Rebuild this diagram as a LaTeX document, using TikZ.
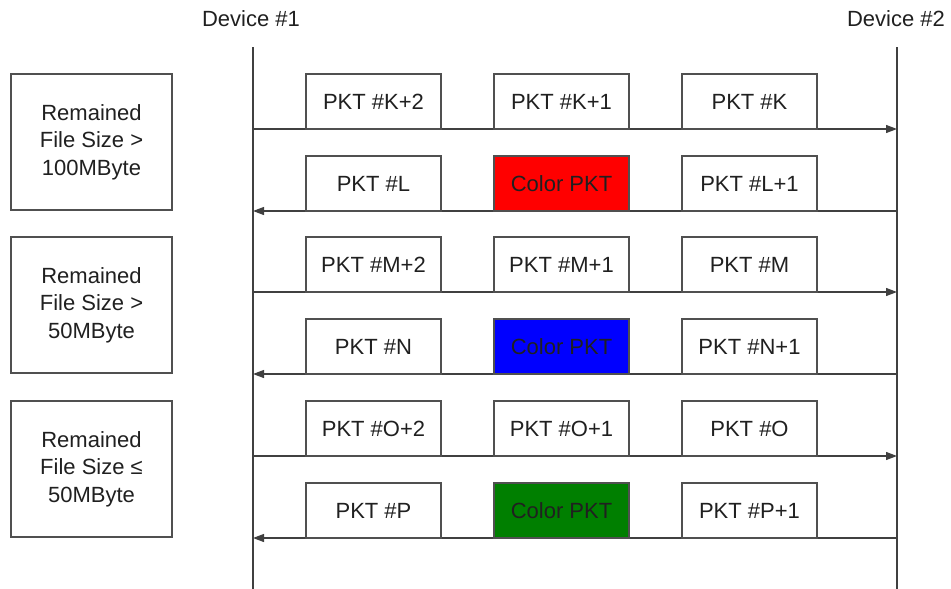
\documentclass[tikz,border=0pt]{standalone}
\usepackage{fontspec}
\setmainfont{Liberation Sans}
\usetikzlibrary{arrows.meta}
\definecolor{linec}{HTML}{404040}
\definecolor{boxc}{HTML}{505050}
\definecolor{txtc}{HTML}{202020}
\definecolor{pgreen}{HTML}{007F00}
\tikzset{
  lifeline/.style={draw=linec, line width=1.3pt},
  msg/.style={draw=linec, line width=1.2pt, -{Triangle[length=11pt,width=8pt]}},
  pkt/.style={draw=boxc, line width=1.2pt, fill=white, minimum width=135pt, minimum height=55pt, inner sep=0pt, font=\fontsize{22}{26}\selectfont, text=txtc},
  cond/.style={draw=boxc, line width=1.2pt, fill=white, minimum width=161pt, minimum height=136pt, inner sep=0pt, align=center, font=\fontsize{22}{27.5}\selectfont, text=txtc},
  devlbl/.style={font=\fontsize{22}{26}\selectfont, text=txtc, inner sep=0pt}
}
\begin{document}
\begin{tikzpicture}[x=1pt,y=-1pt]
\useasboundingbox (0,0) rectangle (951,589);
% device labels and lifelines
\node[devlbl] (dev1) at (251,19) {Device \#1};
\node[devlbl] (dev2) at (896,19) {Device \#2};
\coordinate (l1top) at (253,47);
\coordinate (l1bot) at (253,589);
\coordinate (l2top) at (897,47);
\coordinate (l2bot) at (897,589);
\draw[lifeline] (l1top) -- (l1bot);
\draw[lifeline] (l2top) -- (l2bot);
% condition boxes
\node[cond] (c1) at (91.5,142) {Remained\\File Size >\\100MByte};
\node[cond] (c2) at (91.5,305) {Remained\\File Size >\\50MByte};
\node[cond] (c3) at (91.5,469) {Remained\\File Size ≤\\50MByte};
% arrow endpoints
\foreach \i/\y in {1/129,2/211,3/292,4/374,5/456,6/538}{
  \coordinate (a\i l) at (253,\y);
  \coordinate (a\i r) at (897,\y);
}
% arrows
\draw[msg] (a1l) -- (a1r);
\draw[msg] (a2r) -- (a2l);
\draw[msg] (a3l) -- (a3r);
\draw[msg] (a4r) -- (a4l);
\draw[msg] (a5l) -- (a5r);
\draw[msg] (a6r) -- (a6l);
% packets row 1
\node[pkt] (k2) at (373.5,101.5) {PKT \#K+2};
\node[pkt] (k1) at (561.5,101.5) {PKT \#K+1};
\node[pkt] (k0) at (749.5,101.5) {PKT \#K};
% row 2
\node[pkt] (l0) at (373.5,183.5) {PKT \#L};
\node[pkt, fill=red] (cr) at (561.5,183.5) {Color PKT};
\node[pkt] (l1) at (749.5,183.5) {PKT \#L+1};
% row 3
\node[pkt] (m2) at (373.5,264.5) {PKT \#M+2};
\node[pkt] (m1) at (561.5,264.5) {PKT \#M+1};
\node[pkt] (m0) at (749.5,264.5) {PKT \#M};
% row 4
\node[pkt] (n0) at (373.5,346.5) {PKT \#N};
\node[pkt, fill=blue] (cb) at (561.5,346.5) {Color PKT};
\node[pkt] (n1) at (749.5,346.5) {PKT \#N+1};
% row 5
\node[pkt] (o2) at (373.5,428.5) {PKT \#O+2};
\node[pkt] (o1) at (561.5,428.5) {PKT \#O+1};
\node[pkt] (o0) at (749.5,428.5) {PKT \#O};
% row 6
\node[pkt] (p0) at (373.5,510.5) {PKT \#P};
\node[pkt, fill=pgreen] (cg) at (561.5,510.5) {Color PKT};
\node[pkt] (p1) at (749.5,510.5) {PKT \#P+1};
\end{tikzpicture}
\end{document}
